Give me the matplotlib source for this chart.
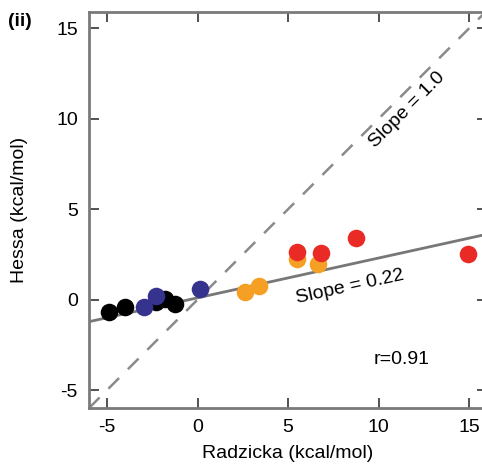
import numpy as np
import matplotlib
matplotlib.use("Agg")
import matplotlib.pyplot as plt

plt.rcParams['font.family'] = ['Liberation Sans', 'DejaVu Sans']

# data (Radzicka vs Hessa, kcal/mol)
black_x = [-4.92, -4.03, -2.27, -1.82, -1.27]
black_y = [-0.66, -0.39, -0.11, 0.06, -0.22]
blue_x = [-2.98, -2.32, 0.11]
blue_y = [-0.39, 0.22, 0.61]
orange_x = [2.60, 3.37, 5.52, 6.63]
orange_y = [0.44, 0.77, 2.27, 1.99]
red_x = [5.52, 6.80, 8.73, 14.92]
red_y = [2.65, 2.60, 3.43, 2.54]

fit_slope = 0.22
fit_icpt = 0.10
ticks = [-5, 0, 5, 10, 15]

fig = plt.figure(figsize=(4.82, 4.68), dpi=100)
ax = fig.add_axes([0.1846, 0.128, 0.826, 0.846])
xlim = (-6, 16)
ylim = (-6, 15.9)

# fit line and 1:1 line
xx = np.array(xlim)
ax.plot(xx, xx, color='#8a8a8a', lw=1.8, dashes=(6, 5), zorder=1)
ax.plot(xx, fit_slope * xx + fit_icpt, color='#777777', lw=2, zorder=1)

ms = 160
ax.scatter(black_x, black_y, s=ms, color='black', lw=0, zorder=3)
ax.scatter(blue_x, blue_y, s=ms, color='#36338f', lw=0, zorder=4)
ax.scatter(orange_x, orange_y, s=ms, color='#f5a024', lw=0, zorder=3)
ax.scatter(red_x, red_y, s=ms, color='#ea2a24', lw=0, zorder=4)

fs = 14
ax.text(11.6, 10.5, 'Slope = 1.0', rotation=45, ha='center', va='center', fontsize=fs)
ax.text(8.4, 0.7, 'Slope = 0.22', rotation=12.4, ha='center', va='center', fontsize=fs)
ax.text(11.27, -3.3, 'r=0.91', ha='center', va='center', fontsize=fs)

ax.set_xlim(*xlim)
ax.set_ylim(*ylim)
ax.set_xticks(ticks)
ax.set_yticks(ticks)
ax.set_xticklabels([str(t) for t in ticks])
ax.set_yticklabels([str(t) for t in ticks])
ax.tick_params(direction='in', length=7, width=1.2, color='#333333',
               top=True, right=True, labelsize=fs, pad=8)
for s in ax.spines.values():
    s.set_color('#7a7a7a')
    s.set_linewidth(2)

ax.set_xlabel('Radzicka (kcal/mol)', fontsize=fs, labelpad=6)
ax.set_ylabel('Hessa (kcal/mol)', fontsize=fs, labelpad=20)

fig.text(0.016, 0.955, '(ii)', fontsize=14, fontweight='bold', ha='left', va='center')

fig.savefig('out.png', dpi=100)
